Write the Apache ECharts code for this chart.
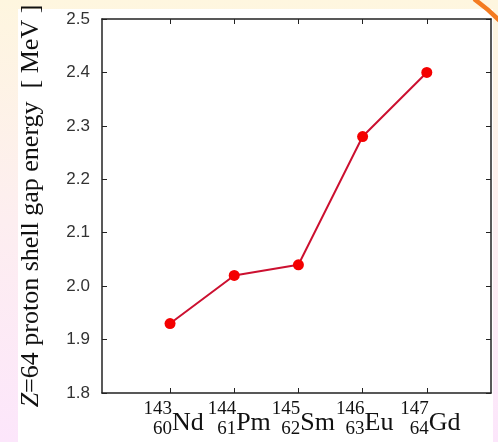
<!DOCTYPE html>
<html>
<head>
<meta charset="utf-8">
<script src="https://cdn.jsdelivr.net/npm/echarts@6/dist/echarts.min.js"></script>
<style>
  html, body { margin: 0; padding: 0; }
  #chart { width: 498px; height: 442px; }
</style>
</head>
<body>
<div id="chart"></div>
<script>
// Nuclei along the N = 83 isotone chain
const symbols = ['Nd', 'Pm', 'Sm', 'Eu', 'Gd'];
const massNumbers = ['143', '144', '145', '146', '147'];
const protonNumbers = ['60', '61', '62', '63', '64'];
// Z = 64 proton shell gap energy, MeV
const gapEnergy = [1.93, 2.02, 2.04, 2.28, 2.40];

const positions = symbols.map((_, i) => i);
const points = positions.map((p, i) => [p, gapEnergy[i]]);
// nuclide notation sits a hair right of each tick
const labelShift = 0.03;
const labelAt = positions.map(p => p + labelShift);

const serif = '"Liberation Serif", "Times New Roman", serif';
const sans = '"Liberation Sans", Arial, sans-serif';
const axisColor = '#222';
const textColor = '#111';

const chart = echarts.init(document.getElementById('chart'), null, { renderer: 'canvas' });

const xCommon = {
  type: 'value',
  min: -1.06,
  max: 5,
  splitLine: { show: false },
  axisLine: { show: true, onZero: false, lineStyle: { color: axisColor, width: 1.5 } },
  axisTick: { show: true, inside: true, length: 5, customValues: positions,
              lineStyle: { color: axisColor, width: 1 } },
  axisLabel: { show: false }
};

const yCommon = {
  type: 'value',
  min: 1.8,
  max: 2.5,
  interval: 0.1,
  splitLine: { show: false },
  axisLine: { show: true, onZero: false, lineStyle: { color: axisColor, width: 1.5 } },
  axisTick: { show: true, inside: true, length: 5, lineStyle: { color: axisColor, width: 1 } }
};

chart.setOption({
  animation: false,
  graphic: [
    {
      type: 'rect', z: -10, silent: true,
      shape: { x: 0, y: 0, width: 498, height: 442 },
      style: {
        fill: new echarts.graphic.LinearGradient(0, 0, 0, 1, [
          { offset: 0, color: '#fef6df' },
          { offset: 0.5, color: '#fdeef0' },
          { offset: 1, color: '#fce6fb' }
        ])
      }
    },
    {
      type: 'rect', z: -9, silent: true,
      shape: { x: 18, y: 9, width: 475, height: 433 },
      style: { fill: '#ffffff' }
    },
    {
      type: 'bezierCurve', z: -8, silent: true,
      shape: { x1: 474, y1: -1, cpx1: 488, cpy1: 9, x2: 500, y2: 21 },
      style: { stroke: '#f47b20', lineWidth: 4.5, fill: null }
    }
  ],
  grid: { left: 102, right: 7, top: 19, bottom: 49, containLabel: false },
  xAxis: [
    // frame + mass / proton numbers, right-aligned at each tick
    Object.assign({}, xCommon, {
      position: 'bottom',
      axisLabel: {
        show: true,
        customValues: labelAt,
        margin: 8,
        align: 'right',
        verticalAlign: 'top',
        hideOverlap: false,
        formatter: function (v) {
          const i = Math.round(v);
          return '{sup|' + massNumbers[i] + '}\n{sub|' + protonNumbers[i] + '}';
        },
        rich: {
          sup: { fontFamily: serif, fontSize: 19, color: textColor, lineHeight: 16, align: 'right' },
          sub: { fontFamily: serif, fontSize: 19, color: textColor, lineHeight: 24, align: 'right' }
        }
      }
    }),
    // element symbols, left-aligned at each tick
    Object.assign({}, xCommon, {
      position: 'bottom',
      axisLine: { show: false, onZero: false },
      axisTick: { show: false },
      axisLabel: {
        show: true,
        customValues: labelAt,
        margin: 18,
        align: 'left',
        verticalAlign: 'top',
        hideOverlap: false,
        fontFamily: serif,
        fontSize: 26,
        lineHeight: 24,
        color: textColor,
        formatter: v => symbols[Math.round(v)]
      }
    }),
    Object.assign({}, xCommon, { position: 'top' })
  ],
  yAxis: [
    Object.assign({}, yCommon, {
      position: 'left',
      name: '{i|Z}=64 proton shell gap energy  [ MeV ]',
      nameLocation: 'middle',
      nameGap: 58,
      nameRotate: 90,
      nameTextStyle: {
        fontFamily: serif, fontSize: 26, color: textColor,
        rich: {
          i: { fontFamily: serif, fontSize: 26, fontStyle: 'italic', color: textColor }
        }
      },
      axisLabel: {
        show: true, margin: 12, color: '#333', fontFamily: sans, fontSize: 17,
        formatter: v => v.toFixed(1)
      }
    }),
    Object.assign({}, yCommon, {
      position: 'right',
      axisLabel: { show: false }
    })
  ],
  series: [
    {
      type: 'line',
      data: points,
      xAxisIndex: 0,
      yAxisIndex: 0,
      symbol: 'circle',
      symbolSize: 11,
      lineStyle: { color: '#cc1030', width: 2 },
      itemStyle: { color: '#f40000', borderWidth: 0 },
      z: 5
    }
  ]
});
</script>
</body>
</html>
